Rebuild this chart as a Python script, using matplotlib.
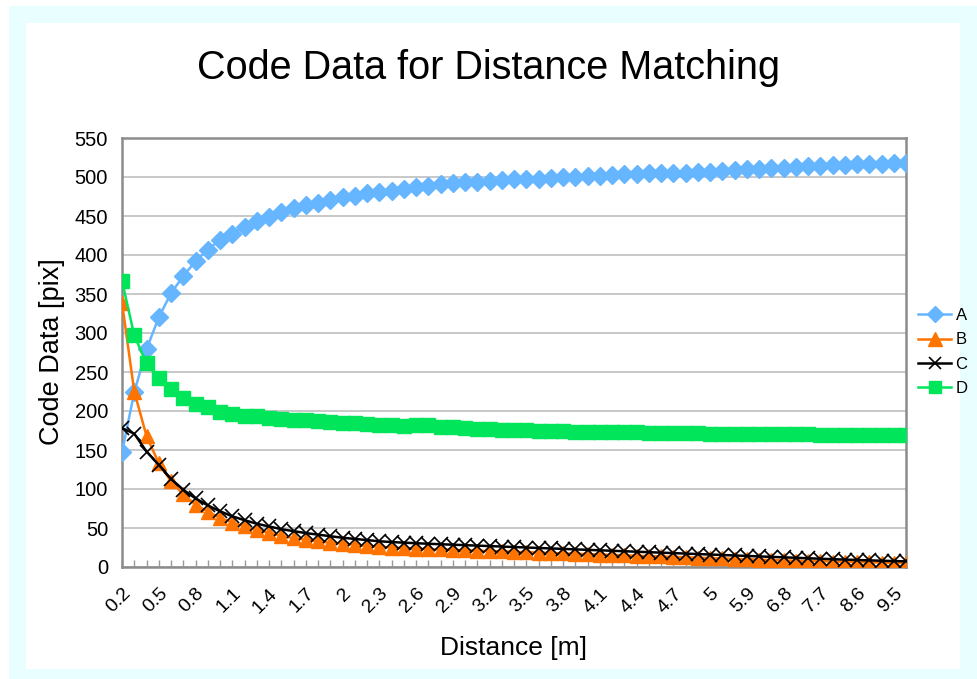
import matplotlib
matplotlib.use("Agg")
import matplotlib.pyplot as plt
import matplotlib.patches as patches

plt.rcParams['font.family'] = ['Liberation Sans', 'DejaVu Sans']

# x categories (distance in m)
distance = ["0.2", "0.3", "0.4", "0.5", "0.6", "0.7", "0.8", "0.9", "1", "1.1",
            "1.2", "1.3", "1.4", "1.5", "1.6", "1.7", "1.8", "1.9", "2", "2.1",
            "2.2", "2.3", "2.4", "2.5", "2.6", "2.7", "2.8", "2.9", "3", "3.1",
            "3.2", "3.3", "3.4", "3.5", "3.6", "3.7", "3.8", "3.9", "4", "4.1",
            "4.2", "4.3", "4.4", "4.5", "4.6", "4.7", "4.8", "4.9", "5", "5.3",
            "5.6", "5.9", "6.2", "6.5", "6.8", "7.1", "7.4", "7.7", "8", "8.3",
            "8.6", "8.9", "9.2", "9.5", "9.8"]

series_a = [147, 224, 279, 320, 351, 373, 392, 407, 419, 427,
            436, 443, 449, 455, 460, 464, 467, 471, 474, 476,
            479, 481, 482, 485, 487, 488.5, 490.5, 492, 493, 494,
            494.5, 496, 497, 497.5, 498, 499, 499.5, 500, 501.5, 501.5,
            503, 503.5, 504, 505, 505, 505.5, 505.6, 506, 506.4, 508,
            509, 510, 510.6, 512, 512, 513, 514, 514.5, 515.4, 516,
            516.7, 517, 517, 517.5, 517.5]

series_b = [339, 225, 168, 133, 110, 93, 80, 71, 63, 57,
            52, 47, 44, 40, 37, 35, 33, 31, 30, 28.5,
            27, 26, 25, 24, 23.5, 23, 22.5, 22, 21.5, 21,
            20.5, 20, 19.5, 19, 18.5, 18, 17.5, 17, 16.5, 16,
            15.5, 15, 14.5, 14, 13.5, 13, 12.5, 12, 11.5, 11,
            10.5, 10, 9.5, 9, 8.5, 8, 7.7, 7.4, 7, 6.7,
            6.4, 6, 5.7, 5.4, 5]

series_c = [178, 171, 148, 131, 113, 99, 88, 79, 71.5, 65,
            60, 55.5, 52, 48.5, 46, 43.5, 41.5, 39.5, 37.5, 36,
            34.5, 33, 32, 31.2, 30.5, 29.8, 29.2, 28.6, 28, 27.4,
            26.8, 26.2, 25.6, 25, 24.4, 23.8, 23.2, 22.6, 22, 21.4,
            20.8, 20.2, 19.6, 19, 18.4, 17.8, 17.2, 16.6, 16, 15.4,
            14.8, 14.2, 13.6, 13, 12.4, 11.8, 11.2, 10.6, 10, 9.5,
            9, 8.5, 8, 7.6, 7.2]

series_d = [367, 297, 261, 242, 228, 217, 209, 204.5, 199, 196,
            194, 193, 191.5, 190, 189, 188, 187, 186, 185, 184,
            183, 182, 181.5, 181, 182, 182, 180, 179, 178, 177.5,
            176.5, 176, 176, 175.5, 175, 174, 174, 173.5, 173.5, 173,
            173, 172.5, 172.5, 172, 172, 172, 171.5, 171.5, 171, 171,
            171, 170.5, 170.5, 170.5, 170, 170, 170, 169.5, 169.5, 169.5,
            169.5, 169, 169, 169, 169]

y_ticks = [0, 50, 100, 150, 200, 250, 300, 350, 400, 450, 500, 550]

fig = plt.figure(figsize=(9.77, 6.79), dpi=100)

# cyan frame round the white chart area
fig.patches.append(patches.Rectangle((9 / 977, 0), 1, 1 - 6 / 679, transform=fig.transFigure,
                                     facecolor='#e9feff', edgecolor='none', zorder=-2))
fig.patches.append(patches.Rectangle((26 / 977, 10 / 679), 934 / 977, 646 / 679,
                                     transform=fig.transFigure,
                                     facecolor='white', edgecolor='none', zorder=-1))

ax = fig.add_axes([122 / 977, 1 - 567 / 679, 784 / 977, 429 / 679])
ax.patch.set_alpha(0)

x = list(range(len(distance)))
ax.plot(x, series_a, color='#66b5ff', lw=1.8, marker='D', ms=9, mec='#66b5ff', label='A', zorder=3)
ax.plot(x, series_b, color='#ff7400', lw=1.8, marker='^', ms=10.5, mec='#ff7400', label='B', zorder=4)
ax.plot(x, series_c, color='black', lw=1.8, marker='x', ms=10, mew=1.2, label='C', zorder=5)
ax.plot(x, series_d, color='#00e55a', lw=1.8, marker='s', ms=10, mec='#00e55a', label='D', zorder=6)

ax.set_xlim(0, len(distance) - 1)
ax.set_ylim(0, 550)
ax.set_yticks(y_ticks)
ax.set_yticklabels([str(v) for v in y_ticks], fontsize=14.5)
ax.tick_params(axis='y', length=0, pad=10)
ax.yaxis.grid(True, color='#c8c8c8', lw=1.4)
ax.set_axisbelow(True)

ax.set_xticks(x)
ax.set_xticklabels([d if i % 3 == 0 else '' for i, d in enumerate(distance)],
                   fontsize=14, rotation=45, ha='right', rotation_mode='anchor')
ax.tick_params(axis='x', direction='in', length=5, color='#999999', width=1, pad=13)

for s in ax.spines.values():
    s.set_color('#8c8c8c')
    s.set_linewidth(1.8)

fig.text(0.5, 1 - 68 / 679, 'Code Data for Distance Matching', ha='center', va='center', fontsize=28.5)
fig.text(514 / 977, 1 - 648 / 679, 'Distance [m]', ha='center', va='center', fontsize=19)
fig.text(52 / 977, 1 - 352 / 679, 'Code Data [pix]', ha='center', va='center', rotation=90, fontsize=19.5)

fig.legend(loc='center left', bbox_to_anchor=(918 / 977, 1 - 352 / 679), frameon=False,
           fontsize=12, handlelength=2.0, handletextpad=0.25, labelspacing=0.55, borderpad=0,
           borderaxespad=0, markerscale=0.9)

fig.savefig('out.png', dpi=100)
